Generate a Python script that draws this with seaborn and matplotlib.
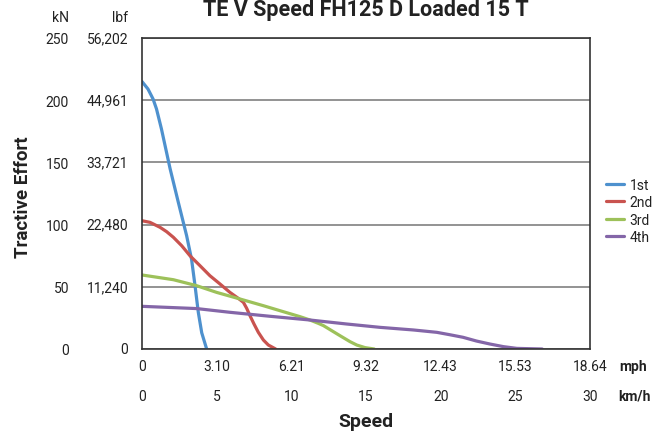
import pandas as pd
import matplotlib.pyplot as plt
import matplotlib.transforms as mtransforms
import seaborn as sns

# Data: speed in km/h, tractive effort in kN
speed_1st = [0, 0.4, 0.74, 0.97, 1.3, 1.88, 2.43, 2.99, 3.32, 3.55, 3.77, 4.0, 4.33]
te_1st = [215, 209, 201, 193, 177, 145, 118, 91, 72, 51, 29.5, 13, 0]
speed_2nd = [0, 0.54, 1.21, 1.65, 2.1, 2.66, 3.21, 3.88, 4.55, 5.22, 5.89,
             6.45, 6.79, 7.01, 7.23, 7.5, 7.79, 8.13, 8.46, 8.95]
te_2nd = [103.1, 101.8, 97.8, 94.3, 89.8, 83, 75, 67, 58.9, 52.3, 45.5,
          40.7, 37.5, 32.7, 26.8, 20.1, 13.4, 7.2, 3.2, 0]
speed_3rd = [0, 2.1, 3.66, 5.0, 6.56, 8.13, 9.24, 10.58, 11.25, 11.81, 12.15,
             12.82, 13.26, 13.93, 14.38, 14.94, 15.55]
te_3rd = [59.5, 55.7, 50.9, 45.5, 40.2, 34.8, 30.8, 26, 23.3, 20.6, 18.8,
          13.9, 10.7, 5.9, 3.2, 1.1, 0]
speed_4th = [0, 3.66, 5.89, 8.57, 11.25, 13.7, 15.94, 18.17, 19.74, 20.6,
             21.5, 22.4, 23.3, 24.2, 25.1, 26.8]
te_4th = [34.3, 32.5, 29.5, 26.3, 23.3, 20.1, 17.4, 15.3, 13.4, 11.5,
          9.4, 6.4, 4, 1.9, 0.5, 0]

gears = ['1st', '2nd', '3rd', '4th']
colors = ['#4E91CE', '#C9534F', '#9DC15A', '#8466A8']

kmh_ticks = [0, 5, 10, 15, 20, 25, 30]
mph_labels = ['0', '3.10', '6.21', '9.32', '12.43', '15.53', '18.64']
kn_ticks = [0, 50, 100, 150, 200, 250]
lbf_labels = ['0', '11,240', '22,480', '33,721', '44,961', '56,202']

frames = []
for g, xs, ys in zip(gears, [speed_1st, speed_2nd, speed_3rd, speed_4th],
                     [te_1st, te_2nd, te_3rd, te_4th]):
    frames.append(pd.DataFrame({'speed': xs, 'te': ys, 'gear': g}))
df = pd.concat(frames, ignore_index=True)

sns.set_theme(style="white")
plt.rcParams['font.family'] = ['Roboto', 'DejaVu Sans']
plt.rcParams['text.color'] = '#222222'

fs = 10

fig = plt.figure(figsize=(6.67, 4.35), dpi=100)
ax = fig.add_axes([142 / 667, 1 - 350 / 435, 448 / 667, 311 / 435])

sns.lineplot(data=df, x='speed', y='te', hue='gear', palette=colors,
             estimator=None, sort=False, linewidth=2.3, ax=ax)
for line in ax.get_lines():
    line.set_solid_joinstyle('round')
    line.set_solid_capstyle('round')

ax.set_xlim(0, 30)
ax.set_ylim(0, 250)
ax.set_xlabel('')
ax.set_ylabel('')

for s in ax.spines.values():
    s.set_color('#333333')
    s.set_linewidth(1.2)
ax.yaxis.grid(True, color='#808080', linewidth=1.2)
ax.set_axisbelow(True)

# mph row on the main axis
ax.set_xticks(kmh_ticks)
ax.set_xticklabels(mph_labels)
ax.tick_params(axis='x', length=0, pad=7.5, labelsize=fs, labelcolor='#222222')

# km/h row on a secondary axis below
sec = ax.secondary_xaxis(-30 / 311)
sec.set_xticks(kmh_ticks)
sec.set_xticklabels([str(t) for t in kmh_ticks])
sec.tick_params(axis='x', length=0, pad=7.5, labelsize=fs, labelcolor='#222222')
sec.spines['bottom'].set_visible(False)

# kN column as y tick labels, lbf column as text
ax.set_yticks(kn_ticks)
ax.set_yticklabels([str(t) for t in kn_ticks])
ax.tick_params(axis='y', length=0, pad=52.5, labelsize=fs, labelcolor='#222222')
trans = mtransforms.blended_transform_factory(ax.transAxes, ax.transData)
for v, lab in zip(kn_ticks, lbf_labels):
    ax.text(-14 / 448, v, lab, transform=trans, ha='right', va='center',
            fontsize=fs)
ax.text(-73 / 448, 1 + 21 / 311, 'kN', transform=ax.transAxes, ha='right',
        va='center', fontsize=fs)
ax.text(-14 / 448, 1 + 21 / 311, 'lbf', transform=ax.transAxes, ha='right',
        va='center', fontsize=fs)

# unit labels
ax.text(1 + 29 / 448, -17 / 311, 'mph', transform=ax.transAxes, ha='left',
        va='center', fontsize=fs, fontweight='bold')
ax.text(1 + 28 / 448, -47 / 311, 'km/h', transform=ax.transAxes, ha='left',
        va='center', fontsize=fs, fontweight='bold')

fig.text(366 / 667, 1 - 422 / 435, 'Speed', ha='center', va='center',
         fontsize=14, fontweight='bold')
fig.text(23 / 667, 1 - 197 / 435, 'Tractive Effort', ha='center', va='center',
         rotation=90, fontsize=13.5, fontweight='bold')
fig.text(366 / 667, 1 - 16 / 435, 'TE V Speed FH125 D Loaded 15 T',
         ha='center', va='baseline', fontsize=15.5, fontweight='bold')

ax.legend(loc='center left', bbox_to_anchor=(1 + 9 / 448, 138 / 311),
          frameon=False, fontsize=fs, handlelength=1.3, handletextpad=0.4,
          labelspacing=0.25, borderpad=0)

fig.savefig('out.png', dpi=100)
